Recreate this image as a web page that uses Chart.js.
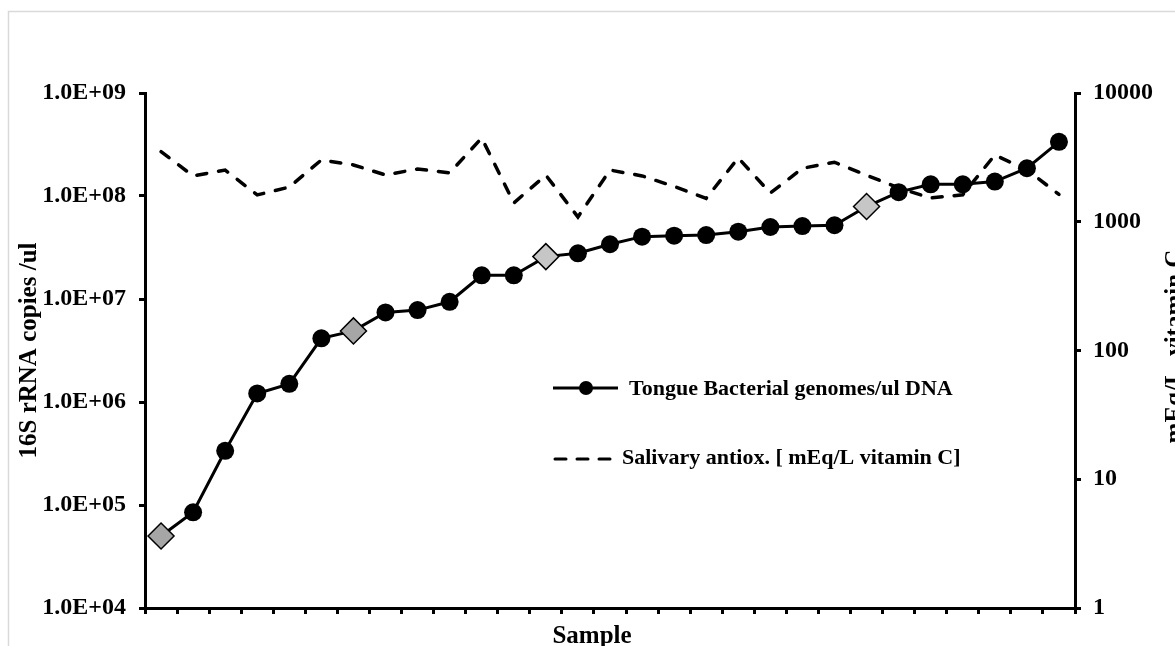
<!DOCTYPE html>
<html>
<head>
<meta charset="utf-8">
<script src="https://cdn.jsdelivr.net/npm/chart.js@4.4.1/dist/chart.umd.min.js"></script>
<style>
  html, body { margin: 0; padding: 0; background: #fff; }
  canvas { display: block; }
</style>
</head>
<body>
<canvas id="c" width="1175" height="646"></canvas>
<script>
// ---- data ----
const categories = ['1','2','3','4','5','6','7','8','9','10','11','12','13','14','15','16','17','18','19','20','21','22','23','24','25','26','27','28','29'];
const bacterialGenomes = [5.0e4, 8.5e4, 3.36e5, 1.21e6, 1.5e6, 4.15e6, 4.9e6, 7.4e6, 7.8e6, 9.4e6, 1.7e7, 1.7e7, 2.58e7, 2.78e7, 3.4e7, 4.03e7, 4.12e7, 4.18e7, 4.5e7, 5.0e7, 5.1e7, 5.2e7, 7.9e7, 1.09e8, 1.3e8, 1.3e8, 1.38e8, 1.86e8, 3.36e8];
const salivaryAntiox = [3500, 2270, 2520, 1615, 1860, 3020, 2760, 2310, 2570, 2400, 4470, 1400, 2300, 1090, 2520, 2270, 1880, 1520, 3130, 1670, 2600, 2900, 2300, 1830, 1530, 1620, 3300, 2530, 1630];
const leftTickValues = [1e4, 1e5, 1e6, 1e7, 1e8, 1e9];
const rightTickValues = [1, 10, 100, 1000, 10000];
const seriesLabels = ['Tongue Bacterial genomes/ul DNA', 'Salivary antiox. [ mEq/L vitamin C]'];
const axisTitles = { left: '16S rRNA copies /ul', right: 'mEq/L, vitamin C', bottom: 'Sample' };
// samples shown with a diamond marker (index -> fill colour)
const diamondSamples = { 0: '#a6a6a6', 6: '#a6a6a6', 12: '#c6c6c6', 22: '#c6c6c6' };

// ---- styles ----
const FONT = "'Liberation Serif', 'Times New Roman', serif";
const pointStyles = categories.map((_, i) => diamondSamples[i] ? 'rectRot' : 'circle');
const pointRadii = categories.map((_, i) => diamondSamples[i] ? 13 : 9);
const pointFills = categories.map((_, i) => diamondSamples[i] || '#000');
const pointBorderW = categories.map((_, i) => diamondSamples[i] ? 1.5 : 0);

function sciLabel(v) {
  const e = Math.round(Math.log10(v));
  return '1.0E' + (e < 0 ? '-' : '+') + String(Math.abs(e)).padStart(2, '0');
}

const decorPlugin = {
  id: 'decor',
  beforeDraw(chart) {
    const ctx = chart.ctx;
    ctx.save();
    ctx.fillStyle = '#fff';
    ctx.fillRect(0, 0, chart.width, chart.height);
    ctx.strokeStyle = '#d9d9d9';
    ctx.lineWidth = 1.5;
    ctx.strokeRect(8.5, 11.5, 1300, 800);
    ctx.restore();
  },
  afterDraw(chart) {
    const ctx = chart.ctx;
    const ca = chart.chartArea;
    ctx.save();
    ctx.fillStyle = '#000';
    ctx.font = 'bold 25px ' + FONT;
    // left title
    ctx.save();
    ctx.translate(36, (ca.top + ca.bottom) / 2);
    ctx.rotate(-Math.PI / 2);
    ctx.textAlign = 'center';
    ctx.textBaseline = 'alphabetic';
    ctx.fillText(axisTitles.left, 0, 0);
    ctx.restore();
    // right title
    ctx.save();
    ctx.translate(1182, (ca.top + ca.bottom) / 2 - 4);
    ctx.rotate(-Math.PI / 2);
    ctx.textAlign = 'center';
    ctx.textBaseline = 'alphabetic';
    ctx.fillText(axisTitles.right, 0, 0);
    ctx.restore();
    // bottom title
    ctx.textAlign = 'center';
    ctx.textBaseline = 'alphabetic';
    ctx.fillText(axisTitles.bottom, 592, 643);

    // legend
    ctx.font = 'bold 22px ' + FONT;
    ctx.textAlign = 'left';
    ctx.textBaseline = 'middle';
    ctx.strokeStyle = '#000';
    ctx.lineWidth = 3;
    ctx.beginPath();
    ctx.moveTo(553, 388); ctx.lineTo(618, 388);
    ctx.stroke();
    ctx.beginPath();
    ctx.arc(586, 388, 7, 0, Math.PI * 2);
    ctx.fill();
    ctx.fillText(seriesLabels[0], 629, 389);

    ctx.lineCap = 'round';
    ctx.setLineDash([11, 11]);
    ctx.beginPath();
    ctx.moveTo(555, 459); ctx.lineTo(614, 459);
    ctx.stroke();
    ctx.setLineDash([]);
    ctx.fillText(seriesLabels[1], 622, 458);
    ctx.restore();
  }
};

const tickFont = { family: FONT, weight: 'bold', size: 24 };

new Chart(document.getElementById('c'), {
  type: 'line',
  data: {
    labels: categories,
    datasets: [
      {
        label: seriesLabels[0],
        data: bacterialGenomes,
        yAxisID: 'y',
        borderColor: '#000',
        borderWidth: 3,
        pointStyle: pointStyles,
        pointRadius: pointRadii,
        pointBackgroundColor: pointFills,
        pointBorderColor: '#000',
        pointBorderWidth: pointBorderW,
        tension: 0,
        order: 0
      },
      {
        label: seriesLabels[1],
        data: salivaryAntiox,
        yAxisID: 'y2',
        borderColor: '#000',
        borderWidth: 3.5,
        borderDash: [10, 12],
        borderCapStyle: 'round',
        pointRadius: 0,
        tension: 0,
        order: 1
      }
    ]
  },
  options: {
    responsive: false,
    animation: false,
    layout: { padding: { top: 93, left: 0, right: 0, bottom: 0 } },
    plugins: { legend: { display: false }, tooltip: { enabled: false } },
    scales: {
      x: {
        type: 'category',
        offset: true,
        grid: { offset: true, drawOnChartArea: false, drawTicks: true, tickLength: 6, lineWidth: 3, color: '#000' },
        border: { display: true, width: 3, color: '#000' },
        ticks: { callback: () => '', font: tickFont, padding: 0 },
        afterFit: s => { s.height = 38; }
      },
      y: {
        type: 'logarithmic',
        position: 'left',
        min: 1e4,
        max: 1e9,
        afterBuildTicks: s => { s.ticks = leftTickValues.map(v => ({ value: v })); },
        ticks: { callback: v => sciLabel(v), font: tickFont, color: '#000', padding: 13, autoSkip: false },
        grid: { drawOnChartArea: false, tickLength: 6, lineWidth: 3, color: '#000' },
        border: { display: true, width: 3, color: '#000' },
        afterFit: s => { s.width = 145; }
      },
      y2: {
        type: 'logarithmic',
        position: 'right',
        min: 1,
        max: 10000,
        afterBuildTicks: s => { s.ticks = rightTickValues.map(v => ({ value: v })); },
        ticks: { callback: v => String(v), font: tickFont, color: '#000', padding: 12, autoSkip: false },
        grid: { drawOnChartArea: false, tickLength: 6, lineWidth: 3, color: '#000' },
        border: { display: true, width: 3, color: '#000' },
        afterFit: s => { s.width = 100; }
      }
    }
  },
  plugins: [decorPlugin]
});
</script>
</body>
</html>
